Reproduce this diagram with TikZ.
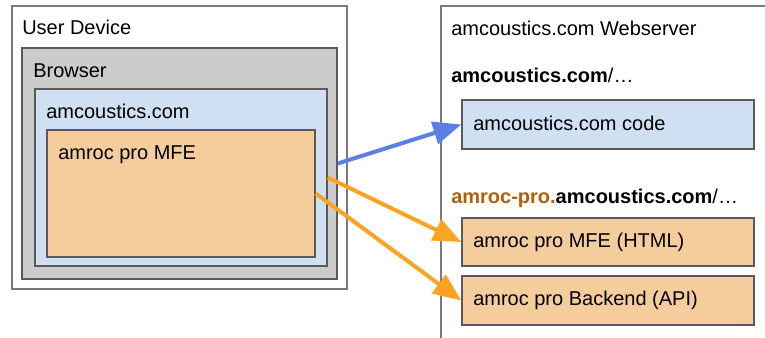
\documentclass[tikz,border=0pt]{standalone}
\usepackage{fontspec}
\setmainfont{Liberation Sans}
\usetikzlibrary{fit,arrows.meta}
\definecolor{framegray}{HTML}{7A7A7A}
\definecolor{boxline}{HTML}{5A5A5A}
\definecolor{browserfill}{HTML}{CCCCCC}
\definecolor{sitefill}{HTML}{CFE0F3}
\definecolor{mfefill}{HTML}{F5CD9C}
\definecolor{linkblue}{HTML}{5A7FE6}
\definecolor{linkorange}{HTML}{FBA323}
\definecolor{subdomain}{HTML}{B45F06}
\tikzset{
  region/.style={inner sep=0pt, draw, line width=1.1pt},
  caption/.style={anchor=base west, inner sep=0pt, font=\fontsize{15pt}{18pt}\selectfont},
  link/.style={line width=3pt, -{Triangle[length=21pt,width=17pt]}},
}
\begin{document}
\begin{tikzpicture}[x=0.75pt, y=-0.75pt]
\useasboundingbox (0,0) rectangle (765,338);
\fill[white] (0,0) rectangle (765,338);

% client side: nested containers
\node[region, fit={(12,6) (347,289)}, draw=framegray, fill=white] (device) {};
\node[region, fit={(22,48) (337,279)}, draw=boxline, fill=browserfill] (browser) {};
\node[region, fit={(35,89) (327,266)}, draw=boxline, fill=sitefill] (site) {};
\node[region, fit={(47,130) (315,257)}, draw=boxline, fill=mfefill] (mfe) {};

\node[caption] (devicelabel) at (22,35) {User Device};
\node[caption] (browserlabel) at (33,78) {Browser};
\node[caption] (sitelabel) at (46,119) {amcoustics.com};
\node[caption] (mfelabel) at (58,160) {amroc pro MFE};

% server side: frame runs off the page to the right and bottom
\begin{scope}
\clip (0,0) rectangle (765,338);
\draw[framegray, line width=1.1pt] (441,345) -- (441,6) -- (775,6);
\end{scope}

\node[caption] (serverlabel) at (451,36) {amcoustics.com Webserver};
\node[caption] (mainpath) at (451,83) {\textbf{amcoustics.com}/…};
\node[caption] (subpath) at (451,204) {\textbf{\color{subdomain}amroc-pro.}\textbf{amcoustics.com}/…};

\node[region, fit={(462,100) (754,149)}, draw=boxline, fill=sitefill] (code) {};
\node[region, fit={(462,218) (754,266)}, draw=boxline, fill=mfefill] (html) {};
\node[region, fit={(462,276) (754,325)}, draw=boxline, fill=mfefill] (api) {};

\node[caption] (codelabel) at (473,131) {amcoustics.com code};
\node[caption] (htmllabel) at (473,248) {amroc pro MFE (HTML)};
\node[caption] (apilabel) at (473,306) {amroc pro Backend (API)};

% requests
\draw[link, linkblue] (browser.east) -- (code.west);
\draw[link, linkorange] (site.east) -- (html.west);
\draw[link, linkorange] (mfe.east) -- (api.west);
\end{tikzpicture}
\end{document}
